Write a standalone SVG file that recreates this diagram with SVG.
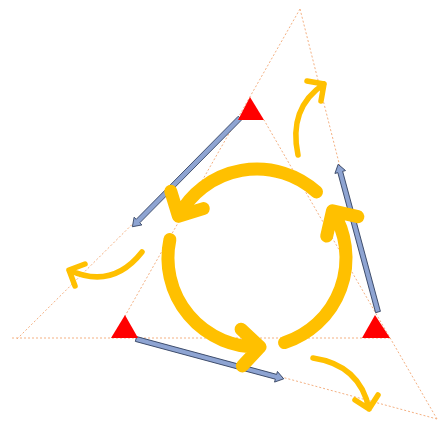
<svg xmlns="http://www.w3.org/2000/svg" xmlns:xlink="http://www.w3.org/1999/xlink" width="441" height="428" viewBox="0 0 441 428">
<style>
.guide{stroke:#F4B183;stroke-width:1;stroke-dasharray:2 2;fill:none}
.blue{fill:#8EA4D2;stroke:#2E3D5C;stroke-width:0.8}
.red{fill:#FF0000}
.big{fill:none;stroke:#FFC000;stroke-width:13;stroke-linecap:round;stroke-linejoin:round}
.small{fill:none;stroke:#FFC000;stroke-width:5.5;stroke-linecap:round;stroke-linejoin:round}
</style>
<defs>
<polygon id="barrow" points="0,-2.5 145,-2.5 145,-5.5 153,0 145,5.5 145,2.5 0,2.5"/>
</defs>
<rect width="441" height="428" fill="#FFFFFF"/>
<g id="connectors">
<line class="guide" x1="300" y1="9" x2="125" y2="316"/>
<line class="guide" x1="300" y1="9" x2="377" y2="313"/>
<line class="guide" x1="12" y1="338" x2="390" y2="338"/>
<line class="guide" x1="17" y1="339" x2="239" y2="118"/>
<line class="guide" x1="437" y1="419" x2="264" y2="120"/>
<line class="guide" x1="437" y1="419" x2="137" y2="338"/>
<use class="blue" xlink:href="#barrow" href="#barrow" transform="translate(240,118) rotate(134.7)"/>
<use class="blue" xlink:href="#barrow" href="#barrow" transform="translate(136,339) rotate(15.1)"/>
<use class="blue" xlink:href="#barrow" href="#barrow" transform="translate(378,312) rotate(-105.1)"/>
</g>
<g id="node-top"><polygon class="red" points="250,97 238,120 264,120"/></g>
<g id="node-left"><polygon class="red" points="125,315 111,338 138,338"/></g>
<g id="node-right"><polygon class="red" points="375,315 362,338 390,338"/></g>
<g id="cycle">
<path class="big" d="M316.5,191.9 A89,89 0 0 0 178.4,216.2 M203.3,208.6 L178.4,216.2 L170.8,191.3"/>
<path class="big" d="M169.9,239.5 A89,89 0 0 0 260.1,346.9 M241.1,329.2 L260.1,346.9 L242.4,365.9"/>
<path class="big" d="M284.5,342.6 A89,89 0 0 0 332.5,210.8 M326.7,236.1 L332.5,210.8 L357.8,216.7"/>
</g>
<g id="outflows">
<path class="small" d="M298,155 Q288,108 324,84 M307,81 L324,84 L321,101"/>
<path class="small" d="M142,252 Q112,290 69,270 M85,264 L69,270 L75,286"/>
<path class="small" d="M313,358 Q360,365 369,409 M355,400 L369,409 L378,395"/>
</g>
</svg>
